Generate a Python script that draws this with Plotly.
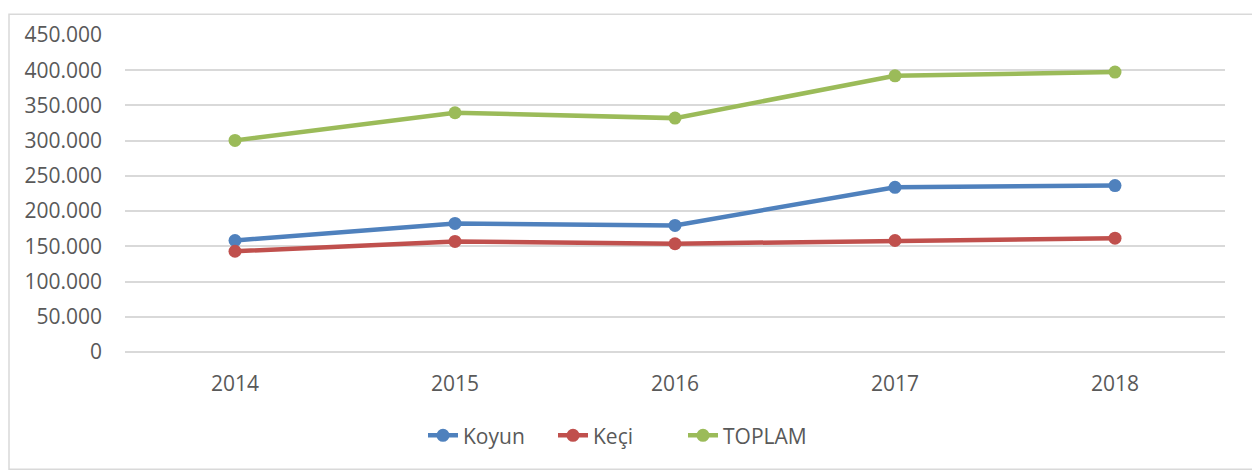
import plotly.graph_objects as go

years = ["2014", "2015", "2016", "2017", "2018"]
koyun = [158300, 182500, 179700, 233800, 236200]
keci = [143000, 157000, 153700, 158300, 161600]
toplam = [300400, 339600, 332000, 392000, 397300]

y_ticks = [0, 50000, 100000, 150000, 200000, 250000, 300000, 350000, 400000, 450000]
y_tick_labels = ["0", "50.000", "100.000", "150.000", "200.000", "250.000",
                 "300.000", "350.000", "400.000", "450.000"]

series = [
    ("Koyun", koyun, "#4F81BD"),
    ("Keçi", keci, "#C0504D"),
    ("TOPLAM", toplam, "#9BBB59"),
]

fig = go.Figure()
for name, vals, color in series:
    fig.add_trace(go.Scatter(
        x=years, y=vals, name=name, mode="lines+markers",
        line=dict(color=color, width=4.5),
        marker=dict(color=color, size=13),
    ))

OFF = 8  # default body margin of the page
W, H = 1260 - OFF, 474 - OFF
# plot area in page pixels: x 125..1225, y 30..352
ml, mt = 125 - OFF, 30 - OFF
mr = W - (1225 - OFF)
mb = H - (352 - OFF)
pw, ph = W - ml - mr, H - mt - mb

def px_to_paper_x(px):
    return (px - OFF - ml) / pw

def px_to_paper_y(py):
    return (H - mb - (py - OFF)) / ph

FONT = 21
fig.update_layout(
    width=W, height=H,
    margin=dict(l=ml, r=mr, t=mt, b=mb),
    paper_bgcolor="white", plot_bgcolor="white",
    font=dict(family="Open Sans, sans-serif", size=FONT, color="#595959"),
    showlegend=True,
    legend=dict(orientation="h", x=px_to_paper_x(423), xanchor="left",
                y=px_to_paper_y(437), yanchor="middle",
                font=dict(size=FONT, color="#595959"),
                itemwidth=30, traceorder="normal",
                entrywidth=85, entrywidthmode="pixels"),
    xaxis=dict(type="category", range=[-0.5, 4.5], showgrid=False, zeroline=False,
               showline=False, ticks="", tickfont=dict(size=FONT, color="#595959"),
               ticklabelstandoff=17),
    yaxis=dict(range=[0, 450000], tickvals=y_ticks, ticktext=y_tick_labels,
               showgrid=True, gridcolor="#D9D9D9", gridwidth=1.5, zeroline=True,
               zerolinecolor="#D9D9D9", zerolinewidth=1.5, showline=False, ticks="",
               tickfont=dict(size=FONT, color="#595959"), ticklabelstandoff=22),
    shapes=[dict(type="rect", xref="paper", yref="paper",
                 x0=px_to_paper_x(OFF + 1), x1=px_to_paper_x(1254),
                 y0=px_to_paper_y(471), y1=px_to_paper_y(OFF + 1),
                 line=dict(color="#D9D9D9", width=1.5), fillcolor="rgba(0,0,0,0)",
                 layer="below")],
)

fig.write_html("out.html")
